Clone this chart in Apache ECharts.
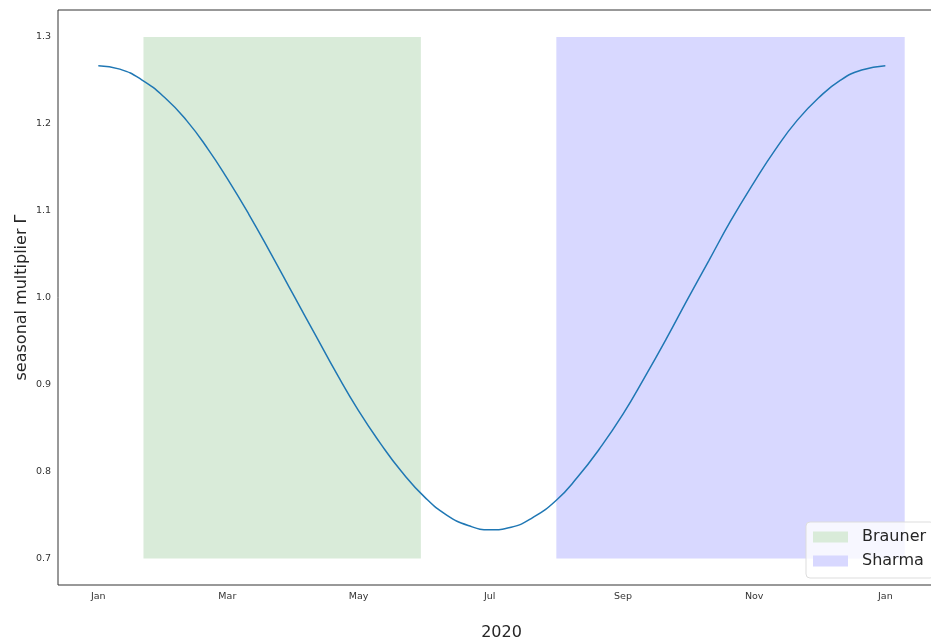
<!DOCTYPE html>
<html><head><meta charset="utf-8">
<script src="https://cdn.jsdelivr.net/npm/echarts@6/dist/echarts.min.js"></script>
<style>html,body{margin:0;padding:0;background:#fff}#c{width:931px;height:642px}</style>
</head><body><div id="c"></div>
<script>
// Data
const dates = ['2020-01-01','2020-01-11','2020-01-21','2020-02-01','2020-02-11','2020-02-21','2020-03-01','2020-03-11','2020-03-21','2020-04-01','2020-04-11','2020-04-21','2020-05-01','2020-05-11','2020-05-21','2020-06-01','2020-06-11','2020-06-21','2020-07-01','2020-07-11','2020-07-21','2020-08-01','2020-08-11','2020-08-21','2020-09-01','2020-09-11','2020-09-21','2020-10-01','2020-10-11','2020-10-21','2020-11-01','2020-11-11','2020-11-21','2020-12-01','2020-12-11','2020-12-21','2021-01-01'];
const multiplier = [1.267,1.263,1.251,1.230,1.204,1.171,1.137,1.096,1.052,1.002,0.957,0.912,0.870,0.833,0.800,0.770,0.750,0.738,0.733,0.736,0.747,0.767,0.794,0.826,0.866,0.908,0.952,0.998,1.043,1.088,1.133,1.171,1.204,1.230,1.250,1.262,1.267];
const braunerRange = ['2020-01-22','2020-05-30'];
const sharmaRange = ['2020-08-01','2021-01-10'];
const bandY = [0.7, 1.3];
const xTickDates = ['2020-01-01','2020-03-01','2020-05-01','2020-07-01','2020-09-01','2020-11-01','2021-01-01'];
const xTickLabels = ['Jan','Mar','May','Jul','Sep','Nov','Jan'];
const yTicks = [0.7,0.8,0.9,1.0,1.1,1.2,1.3];

const ts = s => new Date(s + 'T00:00:00Z').getTime();
const DAY = 86400000;
const xMin = ts('2020-01-01') - 18.75*DAY;
const xMax = ts('2020-01-01') + 393.75*DAY;
const tickTs = xTickDates.map(ts);

const chart = echarts.init(document.getElementById('c'), null, {renderer:'canvas'});
const font = 'DejaVu Sans';
chart.setOption({
  animation:false,
  textStyle:{fontFamily:font},
  grid:{left:58, top:10, right:-14, bottom:57, show:true, borderColor:'#333', borderWidth:1, backgroundColor:'transparent', containLabel:false, outerBoundsMode:'none'},
  legend:{
    data:['Brauner','Sharma'], orient:'vertical', left:806, top:522,
    itemWidth:35, itemHeight:11, itemGap:6, padding:[6,8,8,7],
    backgroundColor:'rgba(255,255,255,0.8)', borderColor:'#ddd', borderWidth:1, borderRadius:4,
    textStyle:{fontSize:16, lineHeight:18, color:'#262626', fontFamily:font, padding:[0,0,0,9]}, icon:'rect'
  },
  xAxis:{
    type:'value', min:xMin, max:xMax,
    name:'2020', nameLocation:'middle', nameGap:40,
    nameTextStyle:{fontSize:16, color:'#262626', fontFamily:font},
    axisLine:{show:false}, axisTick:{show:false}, splitLine:{show:false},
    axisLabel:{customValues:tickTs, fontSize:9.5, color:'#333', margin:7, fontFamily:font,
      formatter:(v)=>{const i=tickTs.indexOf(v); return i>=0?xTickLabels[i]:'';}}
  },
  yAxis:{
    type:'value', min:0.6695, max:1.331,
    name:'seasonal multiplier Γ', nameLocation:'middle', nameGap:28, nameMoveOverlap:false,
    nameTextStyle:{fontSize:16, color:'#262626', fontFamily:font},
    axisLine:{show:false}, axisTick:{show:false}, splitLine:{show:false},
    axisLabel:{customValues:yTicks, fontSize:9.5, color:'#333', margin:7, fontFamily:font,
      formatter:(v)=>v.toFixed(1)}
  },
  series:[
    {name:'Brauner', type:'line', data:[], itemStyle:{color:'#d9ebd9'}, lineStyle:{width:0},
     markArea:{silent:true, itemStyle:{color:'#d9ebd9'},
       data:[[{xAxis:ts(braunerRange[0]), yAxis:bandY[0]},{xAxis:ts(braunerRange[1]), yAxis:bandY[1]}]]}},
    {name:'Sharma', type:'line', data:[], itemStyle:{color:'#d8d8ff'}, lineStyle:{width:0},
     markArea:{silent:true, itemStyle:{color:'#d8d8ff'},
       data:[[{xAxis:ts(sharmaRange[0]), yAxis:bandY[0]},{xAxis:ts(sharmaRange[1]), yAxis:bandY[1]}]]}},
    {name:'curve', type:'line', smooth:true, showSymbol:false, z:5,
     data:dates.map((d,i)=>[ts(d), multiplier[i]]),
     lineStyle:{color:'#1f77b4', width:1.5}, itemStyle:{color:'#1f77b4'}}
  ]
});
</script></body></html>
